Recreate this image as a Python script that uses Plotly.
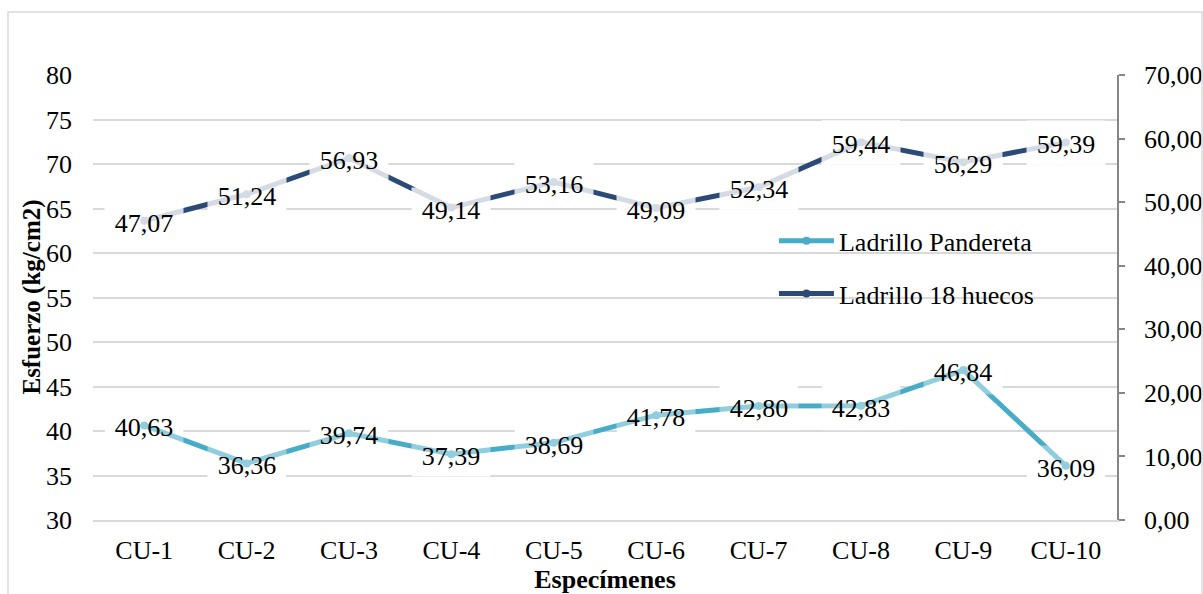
import plotly.graph_objects as go

# Specimens and compressive stress values (kg/cm2)
categories = ["CU-1", "CU-2", "CU-3", "CU-4", "CU-5", "CU-6", "CU-7", "CU-8", "CU-9", "CU-10"]
pandereta = [40.63, 36.36, 39.74, 37.39, 38.69, 41.78, 42.80, 42.83, 46.84, 36.09]
huecos_18 = [47.07, 51.24, 56.93, 49.14, 53.16, 49.09, 52.34, 59.44, 56.29, 59.39]

left_ticks = [30, 35, 40, 45, 50, 55, 60, 65, 70, 75, 80]
right_ticks = [0, 10, 20, 30, 40, 50, 60, 70]
LEFT_RANGE = [30, 80]
RIGHT_RANGE = [0, 70]

FONT = "Liberation Serif"
TEAL = "#46ACC8"
NAVY = "#2C4A78"
GRID = "#D9D9D9"

x_pos = list(range(len(categories)))


def fmt(v):
    return f"{v:.2f}".replace(".", ",")


def right_to_left(v):
    """Express a secondary-axis value on the primary axis scale."""
    frac = (v - RIGHT_RANGE[0]) / (RIGHT_RANGE[1] - RIGHT_RANGE[0])
    return LEFT_RANGE[0] + frac * (LEFT_RANGE[1] - LEFT_RANGE[0])


fig = go.Figure()

fig.add_trace(go.Scatter(
    x=x_pos, y=pandereta, name="Ladrillo Pandereta", mode="lines+markers",
    line=dict(color=TEAL, width=5), marker=dict(size=8, color=TEAL),
    legendgroup="a", yaxis="y",
))
fig.add_trace(go.Scatter(
    x=x_pos, y=huecos_18, name="Ladrillo 18 huecos", mode="lines+markers",
    line=dict(color=NAVY, width=5), marker=dict(size=8, color=NAVY),
    legendgroup="b", yaxis="y2",
))

# Data labels: an opaque box under the lines hides the grid,
# a translucent box above them gives the washed-out look near each point.
BOX_W, BOX_H = 78, 44
shapes = []
annotations = []
series = (
    (pandereta, "y", 0.4, [v for v in pandereta]),
    (huecos_18, "y2", 0.8, [right_to_left(v) for v in huecos_18]),
)
for values, yref, alpha, y_on_left in series:
    for xi, v, yl in zip(x_pos, values, y_on_left):
        shapes.append(dict(
            type="rect", layer="between", xref="x", yref="y",
            xsizemode="pixel", ysizemode="pixel", xanchor=xi, yanchor=yl,
            x0=-BOX_W / 2, x1=BOX_W / 2, y0=-BOX_H / 2, y1=BOX_H / 2,
            fillcolor="white", line=dict(width=0),
        ))
        annotations.append(dict(
            x=xi, y=v, xref="x", yref=yref, text=fmt(v), showarrow=False,
            xanchor="center", yanchor="middle", width=BOX_W, height=BOX_H,
            bgcolor=f"rgba(255,255,255,{alpha})", borderpad=0, yshift=-2,
            font=dict(family=FONT, size=26, color="black"),
        ))

# Vertical axis title
annotations.append(dict(
    text="<b>Esfuerzo (kg/cm2)</b>", xref="paper", yref="paper",
    x=-0.0605, y=0.5, xanchor="center", yanchor="middle",
    textangle=-90, showarrow=False,
    font=dict(family=FONT, size=25, color="black"),
))

# Outer chart frame
shapes.append(dict(
    type="rect", xref="paper", yref="paper", layer="above",
    x0=-0.083, x1=1.083, y0=-0.2, y1=1.1416,
    line=dict(color=GRID, width=1.5), fillcolor="rgba(0,0,0,0)",
))

fig.update_layout(
    width=1203, height=594,
    margin=dict(l=93, r=86, t=75, b=74),
    paper_bgcolor="white", plot_bgcolor="white",
    separators=",.",
    font=dict(family=FONT, size=26, color="black"),
    shapes=shapes, annotations=annotations,
    showlegend=True,
    legend=dict(
        x=0.665, y=0.68, xanchor="left", yanchor="top",
        bgcolor="rgba(0,0,0,0)", traceorder="grouped", tracegroupgap=16,
        itemwidth=55,
        font=dict(family=FONT, size=26, color="black"),
    ),
    xaxis=dict(
        tickmode="array", tickvals=x_pos, ticktext=categories,
        range=[-0.5, len(categories) - 0.5],
        showgrid=False, zeroline=False,
        showline=True, linecolor=GRID, linewidth=1.5, ticks="",
        ticklabelstandoff=6,
        tickfont=dict(family=FONT, size=26),
        title=dict(text="<b>Especímenes</b>", standoff=2,
                   font=dict(family=FONT, size=26)),
        automargin=False,
    ),
    yaxis=dict(
        range=LEFT_RANGE, tickmode="array", tickvals=left_ticks,
        showgrid=True, gridcolor=GRID, gridwidth=1.5, zeroline=False,
        showline=False, ticks="", ticklabelstandoff=20,
        tickfont=dict(family=FONT, size=26),
        automargin=False,
    ),
    yaxis2=dict(
        range=RIGHT_RANGE, tickmode="array", tickvals=right_ticks,
        tickformat=".2f", overlaying="y", side="right",
        showgrid=False, zeroline=False,
        showline=True, linecolor="#868686", linewidth=1.5,
        ticks="outside", ticklen=6, tickcolor="#868686", tickwidth=1.5,
        ticklabelstandoff=14,
        tickfont=dict(family=FONT, size=26),
        automargin=False,
    ),
)

fig.write_html("out.html")
